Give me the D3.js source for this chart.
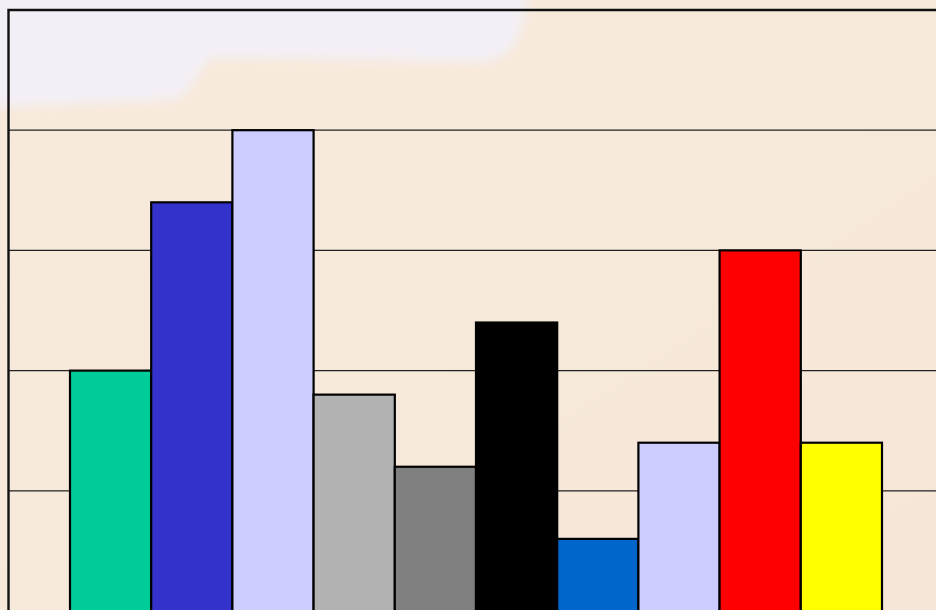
<!DOCTYPE html>
<html lang="en">
<head>
  <meta charset="UTF-8">
  <title>Bar chart</title>
  <style>
    body { margin: 0; background: #f6e8d8; overflow: hidden; }
  </style>
</head>
<body>
  <svg id="svg" width="936" height="610"></svg>

  <script src="https://d3js.org/d3.v7.min.js"></script>
  <script>
    // data
    const categories = ['A', 'B', 'C', 'D', 'E', 'F', 'G', 'H', 'I', 'J']
    const values = [2.0, 3.4, 4.0, 1.8, 1.2, 2.4, 0.6, 1.4, 3.0, 1.4]
    const colors = ['#00cc99', '#3333cc', '#ccccff', '#b2b2b2', '#808080',
                    '#000000', '#0066cc', '#ccccff', '#ff0000', '#ffff00']
    const yTicks = [1, 2, 3, 4]

    const svg = d3.select('#svg')

    // parchment-ish background
    const defs = svg.append('defs')
    defs.append('filter')
      .attr('id', 'blur')
      .attr('x', '-20%').attr('y', '-50%')
      .attr('width', '140%').attr('height', '200%')
      .append('feGaussianBlur')
      .attr('stdDeviation', 6)

    const grad = defs.append('linearGradient')
      .attr('id', 'paper')
      .attr('x1', 0).attr('y1', 0).attr('x2', 1).attr('y2', 1)
    grad.append('stop').attr('offset', '0%').attr('stop-color', '#f8eada')
    grad.append('stop').attr('offset', '60%').attr('stop-color', '#f7e9d9')
    grad.append('stop').attr('offset', '100%').attr('stop-color', '#f5e6d8')

    svg.append('rect')
      .attr('width', 936).attr('height', 610)
      .attr('fill', 'url(#paper)')

    svg.append('path')
      .attr('d', 'M -20,-20 L 530,-20 L 526,5 C 522,40 512,60 480,62 L 215,58 C 200,60 196,92 175,100 L -20,108 Z')
      .attr('fill', '#f3eff6')
      .attr('filter', 'url(#blur)')

    const x = d3.scaleBand()
      .domain(categories)
      .range([70, 882])
      .padding(0)

    const y = d3.scaleLinear()
      .domain([0, 5])
      .range([611, 10])

    // gridlines
    svg.append('g')
      .selectAll('line')
      .data(yTicks)
      .enter()
      .append('line')
      .attr('x1', 8)
      .attr('x2', 940)
      .attr('y1', d => y(d))
      .attr('y2', d => y(d))
      .attr('stroke', '#222')
      .attr('stroke-width', 1.2)

    // plot frame (left + top)
    svg.append('path')
      .attr('d', `M 8.5,${y(0) + 10} L 8.5,${y(5)} L 940,${y(5)}`)
      .attr('fill', 'none')
      .attr('stroke', '#111')
      .attr('stroke-width', 2.4)

    // bars
    svg.append('g')
      .selectAll('rect')
      .data(values)
      .enter()
      .append('rect')
      .attr('x', (d, i) => x(categories[i]))
      .attr('y', d => y(d))
      .attr('width', x.bandwidth())
      .attr('height', d => y(0) - y(d) + 10)
      .attr('fill', (d, i) => colors[i])
      .attr('stroke', '#000')
      .attr('stroke-width', 2.2)
  </script>
</body>
</html>
